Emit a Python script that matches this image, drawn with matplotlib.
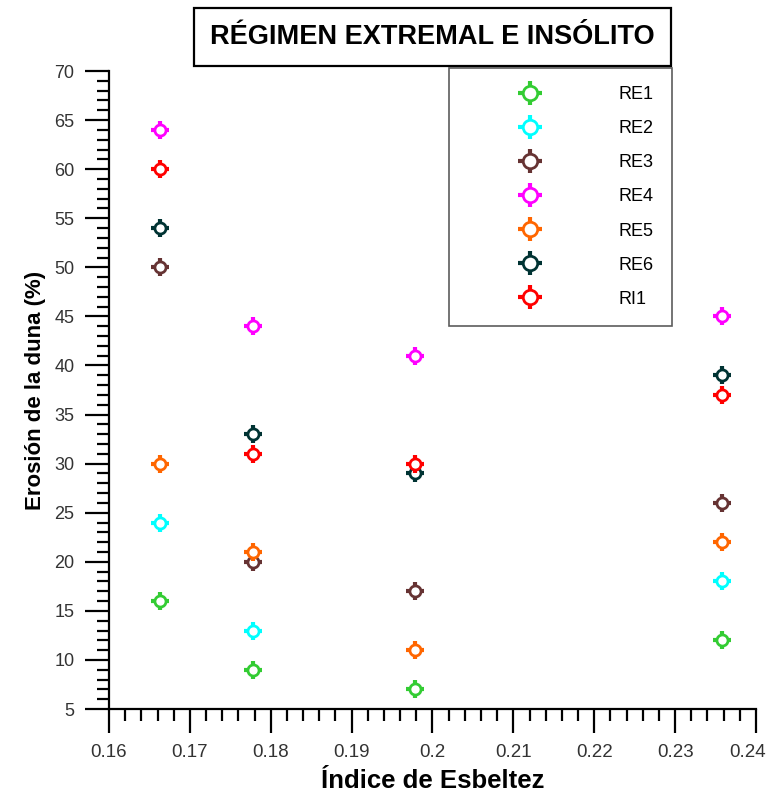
import numpy as np
import matplotlib
matplotlib.use("Agg")
import matplotlib.pyplot as plt
import matplotlib.transforms as mtransforms
from matplotlib.ticker import MultipleLocator

plt.rcParams["font.family"] = ["Liberation Sans", "DejaVu Sans"]

x = [0.1663, 0.1778, 0.1978, 0.2358]

series = ["RE1", "RE2", "RE3", "RE4", "RE5", "RE6", "RI1"]
re1 = [16, 9, 7, 12]
re2 = [24, 13, np.nan, 18]
re3 = [50, 20, 17, 26]
re4 = [64, 44, 41, 45]
re5 = [30, 21, 11, 22]
re6 = [54, 33, 29, 39]
ri1 = [60, 31, 30, 37]
values = [re1, re2, re3, re4, re5, re6, ri1]
colors = ["#33cc33", "#00ffff", "#663333", "#ff00ff", "#ff6600", "#003333", "#ff0000"]
xtick_labels = ["0.16", "0.17", "0.18", "0.19", "0.2", "0.21", "0.22", "0.23", "0.24"]

fig = plt.figure(figsize=(7.71, 7.99), dpi=100)
ax = fig.add_axes([0.1414, 0.1126, 0.8391, 0.7985])

handles = []
for name, vals, c in zip(series, values, colors):
    h1, = ax.plot(x, vals, linestyle="none", marker="+", markersize=13,
                  markeredgewidth=3, color=c)
    h2, = ax.plot(x, vals, linestyle="none", marker="o", markersize=8,
                  markeredgewidth=2, markerfacecolor="white", color=c)
    handles.append((h1, h2))

ax.set_xlim(0.16, 0.24)
ax.set_ylim(5, 70)
ax.xaxis.set_minor_locator(MultipleLocator(0.002))
ax.yaxis.set_major_locator(MultipleLocator(5))
ax.yaxis.set_minor_locator(MultipleLocator(1))
ax.set_xticks(np.arange(0.16, 0.2401, 0.01))
ax.set_xticklabels(xtick_labels)

for s in ["top", "right"]:
    ax.spines[s].set_visible(False)
for s in ["left", "bottom"]:
    ax.spines[s].set_linewidth(1.6)

ax.tick_params(axis="both", which="major", direction="out", length=17, width=1.6,
               labelsize=13.5, color="black", labelcolor="#333333")
ax.tick_params(axis="both", which="minor", direction="out", length=8.5, width=1.6)
ax.tick_params(axis="x", which="major", pad=8)
ax.tick_params(axis="y", which="major", labelsize=13, pad=8)

# nudge the last x label so it stays inside the figure
last = ax.get_xticklabels()[-1]
last.set_transform(last.get_transform()
                   + mtransforms.ScaledTranslation(-6 / 72, 0, fig.dpi_scale_trans))

ax.set_xlabel("Índice de Esbeltez", fontsize=18.5, fontweight="bold", labelpad=6)
ax.set_ylabel("Erosión de la duna (%)", fontsize=16, fontweight="bold", labelpad=6)

fig.text(0.561, 0.954, "RÉGIMEN EXTREMAL E INSÓLITO", ha="center", va="center",
         fontsize=19.5, fontweight="bold",
         bbox=dict(boxstyle="square,pad=0.6", facecolor="white", edgecolor="black",
                   linewidth=1.6))

leg = ax.legend(handles, series, loc="upper left", bbox_to_anchor=(0.525, 1.005),
                fontsize=13, frameon=True, fancybox=False, edgecolor="#333333",
                handlelength=7.0, handletextpad=1.4, labelspacing=0.95,
                borderpad=1.0, borderaxespad=0, markerscale=1.3)
leg.get_frame().set_linewidth(1.2)

fig.savefig("out.png", dpi=100)
